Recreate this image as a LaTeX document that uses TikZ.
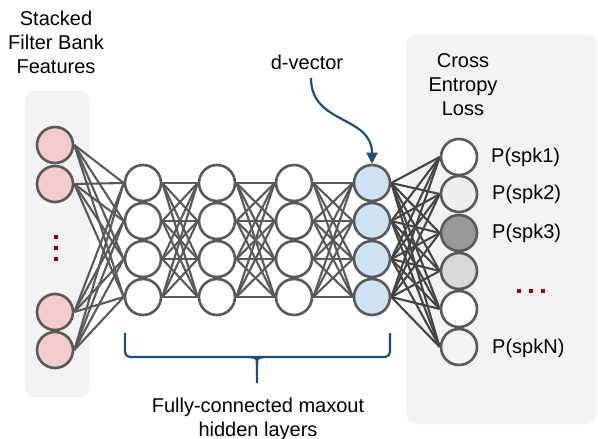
\documentclass[tikz,border=0pt]{standalone}
\usepackage{fontspec}
\setmainfont{Liberation Sans}
\usetikzlibrary{arrows.meta}
\definecolor{edgegray}{HTML}{595959}
\definecolor{edgedark}{HTML}{444444}
\definecolor{boxgray}{HTML}{F3F3F3}
\definecolor{pinkfill}{HTML}{F4CCCC}
\definecolor{bluefill}{HTML}{CFE2F3}
\definecolor{darkblue}{HTML}{1F4E79}
\definecolor{dotred}{HTML}{990000}
\definecolor{outA}{HTML}{EFEFEF}
\definecolor{outB}{HTML}{999999}
\definecolor{outC}{HTML}{D9D9D9}
\pgfdeclarelayer{bg}
\pgfdeclarelayer{edges}
\pgfsetlayers{bg,edges,main}
\tikzset{
  neuron/.style={circle, draw=edgegray, line width=2.6pt, minimum size=36pt, inner sep=0pt, fill=white},
  conn/.style={draw=edgegray, line width=2.1pt},
  connd/.style={draw=edgedark, line width=2.1pt},
  lbl/.style={font=\fontsize{20}{24}\selectfont, align=center, inner sep=0pt},
  plbl/.style={font=\fontsize{20}{24}\selectfont, anchor=west, inner sep=0pt},
  dotsq/.style={fill=dotred, minimum size=4.5pt, inner sep=0pt, draw=none},
  panel/.style={fill=boxgray, draw=none}
}
\begin{document}
\begin{tikzpicture}[x=1pt,y=-1pt]
\useasboundingbox (0,0) rectangle (598,439);
% panels
\begin{pgfonlayer}{bg}
  \fill[panel, rounded corners=9pt] (25,91) rectangle (89,397);
  \fill[panel, rounded corners=11pt] (406,34) rectangle (597,424);
\end{pgfonlayer}
% input nodes
\node[neuron, fill=pinkfill] (i1) at (55,145) {};
\node[neuron, fill=pinkfill] (i2) at (55,184) {};
\node[neuron, fill=pinkfill] (i3) at (55,312) {};
\node[neuron, fill=pinkfill] (i4) at (55,350) {};
% hidden layers
\foreach \l/\x in {1/143,2/217,3/294}{
  \foreach \k/\y in {1/183,2/221,3/259,4/297}{
    \node[neuron] (h\l\k) at (\x,\y) {};
  }
}
\foreach \k/\y in {1/183,2/221,3/259,4/297}{
  \node[neuron, fill=bluefill] (h4\k) at (372,\y) {};
}
% output nodes
\node[neuron] (o1) at (459,157) {};
\node[neuron, fill=outA] (o2) at (459,194) {};
\node[neuron, fill=outB] (o3) at (459,233) {};
\node[neuron, fill=outC] (o4) at (459,271) {};
\node[neuron] (o5) at (459,309) {};
\node[neuron, fill=boxgray] (o6) at (459,347) {};
% connections
\begin{pgfonlayer}{edges}
  \foreach \a in {1,2,3,4}{
    \foreach \b in {1,2,3,4}{
      \draw[conn] (i\a.east) -- (h1\b.west);
      \draw[conn] (h1\a.east) -- (h2\b.west);
      \draw[conn] (h2\a.east) -- (h3\b.west);
      \draw[conn] (h3\a.east) -- (h4\b.west);
    }
    \foreach \b in {1,...,6}{
      \draw[connd] (h4\a.east) -- (o\b.west);
    }
  }
\end{pgfonlayer}
% dots
\node[dotsq] (vd1) at (56,237) {};
\node[dotsq] (vd2) at (56,248) {};
\node[dotsq] (vd3) at (56,259) {};
\node[dotsq] (hd1) at (519,291) {};
\node[dotsq] (hd2) at (531,291) {};
\node[dotsq] (hd3) at (543,291) {};
% labels
\node[lbl] (tin) at (56,42) {Stacked\\Filter Bank\\Features};
\node[lbl] (tce) at (463,85) {Cross\\Entropy\\Loss};
\node[lbl] (tdv) at (307,62) {d-vector};
\node[lbl] (thl) at (258,419) {Fully-connected maxout\\hidden layers};
\node[plbl] (p1) at (491,157) {P(spk1)};
\node[plbl] (p2) at (492,194) {P(spk2)};
\node[plbl] (p3) at (492,233) {P(spk3)};
\node[plbl] (pn) at (492,348) {P(spkN)};
% d-vector arrow
\coordinate (as) at (311,78);
\draw[darkblue, line width=2.2pt, -{Triangle[length=11pt,width=11pt]}] (as) .. controls (311,125) and (372,115) .. (h41.north);
% brace
\coordinate (bl) at (125,333);
\coordinate (br) at (390,333);
\coordinate (bm) at (257,383);
\draw[darkblue, line width=2.2pt, rounded corners=5pt] (bl) -- (125,357) -- (390,357) -- (br);
\draw[darkblue, line width=2.2pt] (bm) -- (257,365) .. controls (257,358) .. (250,357);
\draw[darkblue, line width=2.2pt] (257,365) .. controls (257,358) .. (264,357);
\end{tikzpicture}
\end{document}
